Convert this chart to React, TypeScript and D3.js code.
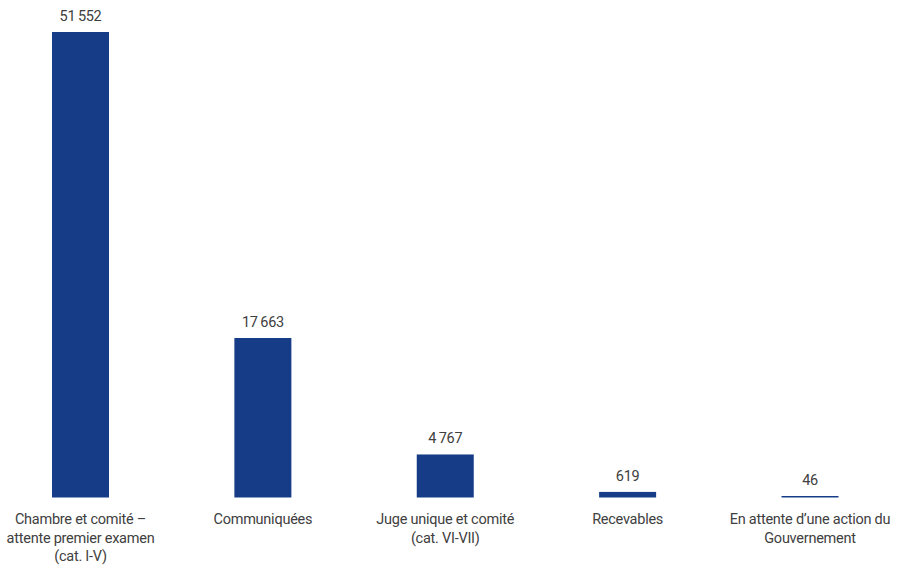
import React from "react";
import * as d3 from "d3";

const categories = [
  "Chambre et comité – attente premier examen (cat. I-V)",
  "Communiquées",
  "Juge unique et comité (cat. VI-VII)",
  "Recevables",
  "En attente d’une action du Gouvernement",
];
const labelLines = [
  ["Chambre et comité –", "attente premier examen", "(cat. I-V)"],
  ["Communiquées"],
  ["Juge unique et comité", "(cat. VI-VII)"],
  ["Recevables"],
  ["En attente d’une action du", "Gouvernement"],
];
const values = [51552, 17663, 4767, 619, 46];

const W = 897;
const H = 571;
const BAR_COLOR = "#173c87";
const TEXT_COLOR = "#404040";
const FONT = "Roboto, 'Open Sans', sans-serif";

export default function App() {
  const x = d3.scalePoint<string>().domain(categories).range([80.5, 810]);
  const y = d3.scaleLinear().domain([0, 51552]).range([497.5, 32]);
  const fmt = d3.formatLocale({ decimal: ",", thousands: "\u2009", grouping: [3], currency: ["", "€"] }).format(",d");
  const bw = 57;

  return (
    <svg width={W} height={H} style={{ position: "absolute", left: 0, top: 0 }} fontFamily={FONT}>
      <rect width={W} height={H} fill="#fff" />
      {categories.map((c, i) => {
        const cx = x(c)!;
        const top = y(values[i]);
        const h = Math.max(y(0) - top, 1.5);
        return (
          <g key={c}>
            <rect x={cx - bw / 2} y={y(0) - h} width={bw} height={h} fill={BAR_COLOR} />
            <text x={cx} y={y(0) - h - 11} textAnchor="middle" fontSize={14.5} fill={TEXT_COLOR} letterSpacing={-0.3}>
              {fmt(values[i])}
            </text>
            <text x={cx} textAnchor="middle" fontSize={14.5} fill={TEXT_COLOR} letterSpacing={-0.25}>
              {labelLines[i].map((l, j) => (
                <tspan key={j} x={cx} y={524 + j * 18.5}>
                  {l}
                </tspan>
              ))}
            </text>
          </g>
        );
      })}
    </svg>
  );
}
